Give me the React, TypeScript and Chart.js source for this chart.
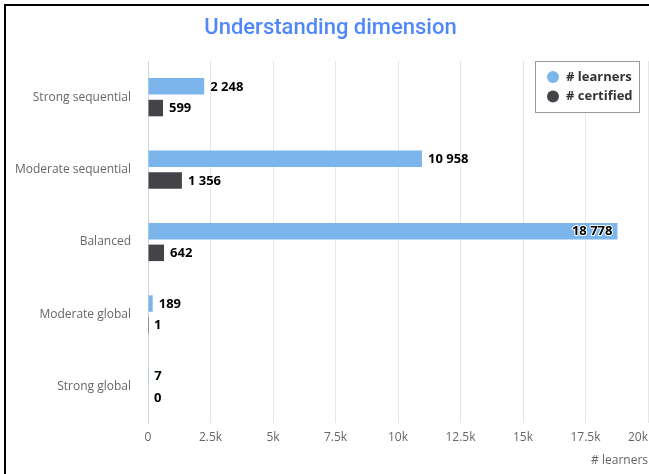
import React, { useEffect, useRef } from "react";
import { Chart, registerables } from "chart.js";

Chart.register(...registerables);

const titleText = "Understanding dimension";
const categories = ["Strong sequential", "Moderate sequential", "Balanced", "Moderate global", "Strong global"];
const seriesNames = ["# learners", "# certified"];
const learners = [2248, 10958, 18778, 189, 7];
const certified = [599, 1356, 642, 1, 0];
const seriesColors = ["#7cb5ec", "#434348"];
const xMin = 0;
const xMax = 20000;
const xStep = 2500;
const xAxisTitle = "# learners";

const FONT = '"Open Sans", "DejaVu Sans", sans-serif';

function fmtThousands(v: number): string {
  return String(v).replace(/\B(?=(\d{3})+(?!\d))/g, " ");
}
function fmtTick(v: number): string {
  if (v === 0) return "0";
  return v / 1000 + "k";
}

const overlayPlugin = {
  id: "overlay",
  afterDatasetsDraw(chart: any) {
    const ctx = chart.ctx;
    const area = chart.chartArea;
    // data labels
    ctx.save();
    ctx.font = `bold 13px ${FONT}`;
    ctx.textBaseline = "middle";
    ctx.lineJoin = "round";
    chart.data.datasets.forEach((ds: any, di: number) => {
      const meta = chart.getDatasetMeta(di);
      meta.data.forEach((el: any, i: number) => {
        const text = fmtThousands(ds.data[i]);
        const w = ctx.measureText(text).width;
        let x = el.x + 6;
        if (x + w > area.right - 2) x = el.x - 5 - w;
        ctx.textAlign = "left";
        ctx.strokeStyle = "#ffffff";
        ctx.lineWidth = 2;
        ctx.strokeText(text, x, el.y + 0.5);
        ctx.fillStyle = "#000000";
        ctx.fillText(text, x, el.y + 0.5);
      });
    });
    ctx.restore();
  },
  afterDraw(chart: any) {
    const ctx = chart.ctx;
    const area = chart.chartArea;
    const xs = chart.scales.x;
    ctx.save();
    // title
    ctx.font = `500 22px Roboto, sans-serif`;
    ctx.fillStyle = "#5088f8";
    ctx.textAlign = "center";
    ctx.textBaseline = "middle";
    ctx.fillText(titleText, chart.width / 2 + 6, 28);

    // x tick labels
    ctx.font = `12px ${FONT}`;
    ctx.fillStyle = "#666666";
    ctx.textAlign = "left";
    xs.ticks.forEach((t: any) => {
      const label = fmtTick(t.value);
      const px = xs.getPixelForValue(t.value);
      const w = ctx.measureText(label).width;
      let x = px - w / 2;
      if (x + w > chart.width - 1) x = chart.width - 1 - w;
      ctx.fillText(label, x, area.bottom + 15);
    });

    // legend
    const boxRight = area.right - 8.5;
    const boxLeft = boxRight - 104;
    const boxTop = area.top + 0.5;
    const boxH = 51;
    ctx.fillStyle = "#ffffff";
    ctx.fillRect(boxLeft, boxTop, boxRight - boxLeft, boxH);
    ctx.strokeStyle = "#999999";
    ctx.lineWidth = 1;
    ctx.strokeRect(boxLeft, boxTop, boxRight - boxLeft, boxH);
    ctx.font = `bold 13px ${FONT}`;
    ctx.textBaseline = "middle";
    chart.data.datasets.forEach((ds: any, i: number) => {
      const cy = boxTop + 15.5 + i * 19.6;
      ctx.beginPath();
      ctx.arc(boxLeft + 17.5, cy, 6, 0, Math.PI * 2);
      ctx.fillStyle = ds.backgroundColor;
      ctx.fill();
      ctx.fillStyle = "#333333";
      ctx.fillText(ds.label, boxLeft + 30.5, cy);
    });
    ctx.restore();
  },
};

export default function App() {
  const ref = useRef<HTMLCanvasElement | null>(null);
  useEffect(() => {
    if (!ref.current) return;
    const chart = new Chart(ref.current, {
      type: "bar",
      data: {
        labels: categories,
        datasets: [
          { label: seriesNames[0], data: learners, backgroundColor: seriesColors[0], barPercentage: 0.76, categoryPercentage: 0.6 },
          { label: seriesNames[1], data: certified, backgroundColor: seriesColors[1], barPercentage: 0.76, categoryPercentage: 0.6 },
        ],
      },
      options: {
        indexAxis: "y",
        animation: false,
        responsive: false,
        maintainAspectRatio: false,
        layout: { padding: { top: 61, right: 1, left: 0, bottom: 0 } },
        plugins: {
          legend: { display: false },
          tooltip: { enabled: false },
          title: { display: false },
        },
        scales: {
          x: {
            type: "linear",
            min: xMin,
            max: xMax,
            ticks: { stepSize: xStep, display: false },
            grid: { color: "#e6e6e6", lineWidth: 1, drawTicks: false },
            border: { display: false },
            title: {
              display: true,
              text: xAxisTitle,
              align: "end",
              color: "#666666",
              font: { family: FONT, size: 12 },
              padding: { top: 0, bottom: 6 },
            },
            afterFit(scale: any) {
              scale.height = 51;
              scale.paddingLeft = 0;
              scale.paddingRight = 0;
            },
          },
          y: {
            type: "category",
            grid: { display: false, drawTicks: false },
            border: { display: true, color: "#ccd6eb", width: 1 },
            ticks: { color: "#666666", font: { family: FONT, size: 12 }, padding: 17 },
            afterFit(scale: any) {
              scale.width = 148;
              scale.paddingTop = 0;
              scale.paddingBottom = 0;
            },
          },
        },
      } as any,
      plugins: [overlayPlugin],
    });
    return () => chart.destroy();
  }, []);

  return (
    <div style={{ position: "fixed", left: 0, top: 0, width: 649, height: 474, background: "#ffffff", overflow: "hidden" }}>
      <canvas ref={ref} width={649} height={474} style={{ position: "absolute", left: 0, top: 0, width: 649, height: 474 }} />
      <div
        style={{
          position: "absolute",
          left: 4,
          top: 4,
          width: 700,
          height: 600,
          borderLeft: "2px solid #000",
          borderTop: "2px solid #000",
          pointerEvents: "none",
        }}
      />
    </div>
  );
}
